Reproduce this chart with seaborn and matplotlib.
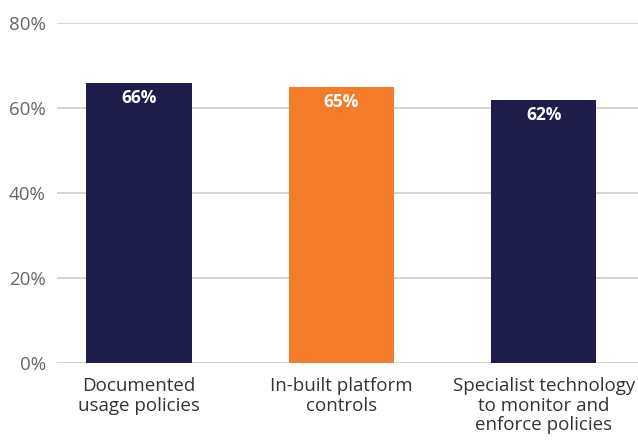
import matplotlib
matplotlib.use("Agg")
import matplotlib.pyplot as plt
from matplotlib import font_manager as fm
import seaborn as sns
import pandas as pd

categories = ["Documented\nusage policies", "In-built platform\ncontrols",
              "Specialist technology\nto monitor and\nenforce policies"]
values = [66, 65, 62]
bar_colors = ["#1E1C4B", "#F47B2A", "#1E1C4B"]
y_ticks = [0, 20, 40, 60, 80]
y_tick_labels = ["0%", "20%", "40%", "60%", "80%"]

sns.set_theme(style="white")
plt.rcParams["font.family"] = ["Open Sans", "DejaVu Sans"]


def bold_font(size):
    """Pick a normal-width bold Open Sans face if one is installed."""
    cands = [f for f in fm.fontManager.ttflist
             if f.name == "Open Sans"
             and "cond" not in f.fname.lower()
             and "[" not in f.fname
             and (isinstance(f.weight, int) and f.weight >= 600
                  or str(f.weight) in ("bold", "semibold", "demibold"))]
    if cands:
        def w(f):
            return f.weight if isinstance(f.weight, int) else 700
        cands.sort(key=lambda f: abs(w(f) - 700))
        return fm.FontProperties(fname=cands[0].fname, size=size)
    return fm.FontProperties(family=["Lato", "DejaVu Sans"], weight="bold", size=size)


df = pd.DataFrame({"category": categories, "value": values})

fig = plt.figure(figsize=(6.38, 4.41), dpi=100)
ax = fig.add_axes([0.0893, 0.177, 0.9107, 0.7708])

sns.barplot(data=df, x="category", y="value", hue="category",
            palette=bar_colors, legend=False, width=0.52,
            saturation=1, linewidth=0, ax=ax, zorder=3)

ax.set_ylim(0, 80)
ax.set_xlim(-0.405, 2.465)
ax.set_yticks(y_ticks)
ax.set_yticklabels(y_tick_labels)
ax.yaxis.grid(True, color="#CCCCCC", linewidth=1.2, zorder=0)
ax.set_axisbelow(True)
for s in ax.spines.values():
    s.set_visible(False)
ax.set_xlabel("")
ax.set_ylabel("")
ax.tick_params(axis="y", length=0, pad=8, labelsize=13.5, labelcolor="#666666")
ax.tick_params(axis="x", length=0, pad=10, labelsize=13.5, labelcolor="#333333")
for lbl in ax.get_xticklabels():
    lbl.set_linespacing(1.12)

# value labels inside the top of each bar
label_font = bold_font(12.5)
for i, v in enumerate(values):
    ax.annotate(f"{v}%", xy=(i, v), xytext=(0, -6), textcoords="offset pixels",
                ha="center", va="top", color="white", fontproperties=label_font,
                zorder=4)

fig.savefig("out.png", dpi=100)
